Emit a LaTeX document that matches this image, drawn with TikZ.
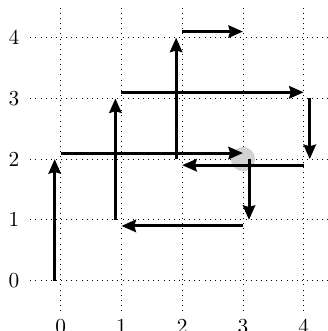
\documentclass[tikz,border=0pt]{standalone}
\usetikzlibrary{arrows.meta}
\begin{document}
\begin{tikzpicture}[
  mv/.style={line width=1.4pt,-{Stealth[length=6.8pt,width=5.8pt,inset=0.8pt]}},
  lbl/.style={inner sep=0pt}
]
\useasboundingbox (-1.0,-0.83) rectangle (4.40,4.62);
\draw[dotted] (-0.5,-0.5) grid (4.5,4.5);
\foreach \i in {0,...,4} {
  \node[lbl] (x\i) at (\i,-0.75) {\i};
  \node[lbl] (y\i) at (-0.77,\i) {\i};
}
\fill[gray!35] (3,2) circle (0.2);
% named points
\foreach \x in {0,...,4} \foreach \y in {0,...,4} {
  \coordinate (u\x\y) at (\x-0.1,\y);
  \coordinate (r\x\y) at (\x,\y+0.1);
  \coordinate (d\x\y) at (\x+0.1,\y);
  \coordinate (l\x\y) at (\x,\y-0.1);
}
\draw[mv] (u00) -- (u02);
\draw[mv] (r02) -- (r32);
\draw[mv] (u11) -- (u13);
\draw[mv] (r13) -- (r43);
\draw[mv] (d43) -- (d42);
\draw[mv] (l42) -- (l22);
\draw[mv] (u22) -- (u24);
\draw[mv] (r24) -- (r34);
\draw[mv] (d32) -- (d31);
\draw[mv] (l31) -- (l11);
\end{tikzpicture}
\end{document}
